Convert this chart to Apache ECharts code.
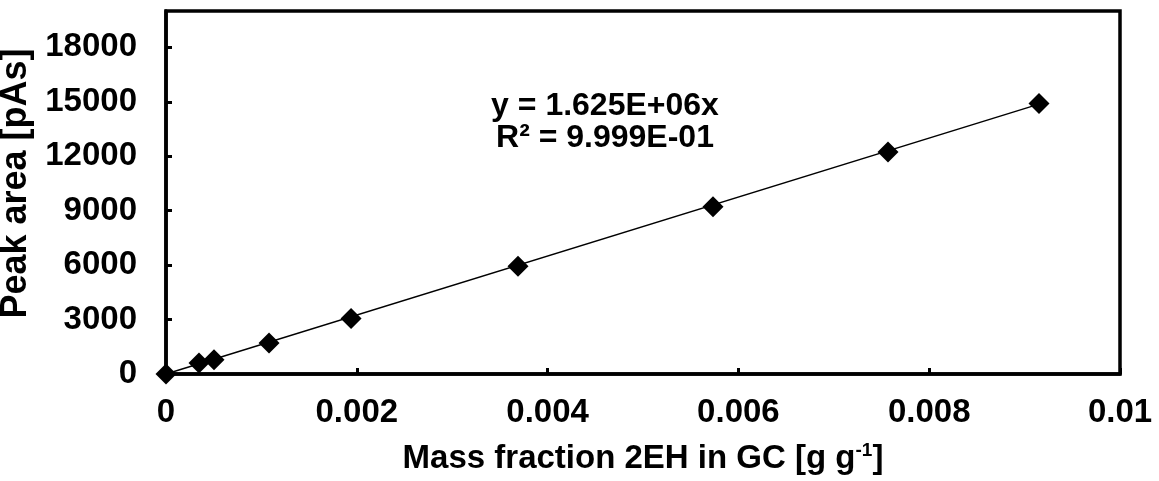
<!DOCTYPE html>
<html>
<head>
<meta charset="utf-8">
<script src="https://cdn.jsdelivr.net/npm/echarts@6/dist/echarts.min.js"></script>
<style>
  html, body { margin: 0; padding: 0; background: #fff; }
  #chart { width: 1159px; height: 481px; }
</style>
</head>
<body>
<div id="chart"></div>
<script>
// Calibration of 2EH by GC: peak area against mass fraction
const massFraction = [0, 0.000346, 0.000503, 0.00108, 0.00194, 0.00369, 0.005734, 0.007568, 0.009151];
const peakArea     = [0, 605, 790, 1710, 3060, 5930, 9220, 12230, 14910];

// Linear fit through the origin, as reported in the annotation
const fitSlope = 1.625e6;
const fitText = ['y = 1.625E+06x', 'R\u00b2 = 9.999E-01'];
const fitRange = [0, massFraction[massFraction.length - 1]];

const xAxisTitle = 'Mass fraction 2EH in GC [g g{sup|-1}]';
const yAxisTitle = 'Peak area [pAs]';

const FONT = '"Liberation Sans", Arial, sans-serif';
const points = massFraction.map((x, i) => [x, peakArea[i]]);
const fitLine = fitRange.map(x => [x, fitSlope * x]);

const chart = echarts.init(document.getElementById('chart'), null, { renderer: 'canvas' });

const axisCommon = {
  axisLine: { show: true, onZero: false, lineStyle: { color: '#000', width: 3.5 } },
  axisTick: { show: true, inside: true, length: 6, lineStyle: { color: '#000', width: 3 } },
  splitLine: { show: false },
};

chart.setOption({
  animation: false,
  backgroundColor: '#fff',
  grid: {
    left: 166, right: 39, top: 11, bottom: 107,
    outerBoundsMode: 'none',
    containLabel: false,
    show: true, borderColor: '#000', borderWidth: 3.5, backgroundColor: 'transparent'
  },
  xAxis: Object.assign({}, axisCommon, {
    type: 'value',
    min: 0, max: 0.01, interval: 0.002,
    axisLabel: {
      color: '#000', fontFamily: FONT, fontWeight: 'bold', fontSize: 33, margin: 22,
      formatter: v => String(+v.toFixed(4))
    },
    name: xAxisTitle,
    nameLocation: 'middle',
    nameGap: 67,
    nameTextStyle: {
      color: '#000', fontFamily: FONT, fontWeight: 'bold', fontSize: 33,
      rich: {
        sup: { color: '#000', fontFamily: FONT, fontWeight: 'bold', fontSize: 19, verticalAlign: 'bottom', padding: [0, 0, 16, 0] }
      }
    }
  }),
  yAxis: Object.assign({}, axisCommon, {
    type: 'value',
    min: 0, max: 20000, interval: 3000,
    axisLabel: {
      color: '#000', fontFamily: FONT, fontWeight: 'bold', fontSize: 33, margin: 29,
      showMaxLabel: false,
      formatter: v => String(v)
    },
    name: yAxisTitle,
    nameLocation: 'middle',
    nameGap: 116,
    nameTextStyle: {
      color: '#000', fontFamily: FONT, fontWeight: 'bold', fontSize: 36,
      padding: [0, 0, 0, 18]
    }
  }),
  series: [
    {
      name: 'fit',
      type: 'line',
      data: fitLine,
      symbol: 'none',
      lineStyle: { color: '#000', width: 1.5 },
      z: 2
    },
    {
      name: 'data',
      type: 'scatter',
      data: points,
      symbol: 'diamond',
      symbolSize: [21, 21],
      itemStyle: { color: '#000', opacity: 1 },
      z: 3
    }
  ],
  graphic: [
    {
      type: 'text',
      x: 605, y: 90,
      style: {
        text: fitText.join('\n'),
        align: 'center',
        verticalAlign: 'top',
        fill: '#000',
        font: 'bold 32px ' + FONT,
        lineHeight: 32
      }
    }
  ]
});
</script>
</body>
</html>
